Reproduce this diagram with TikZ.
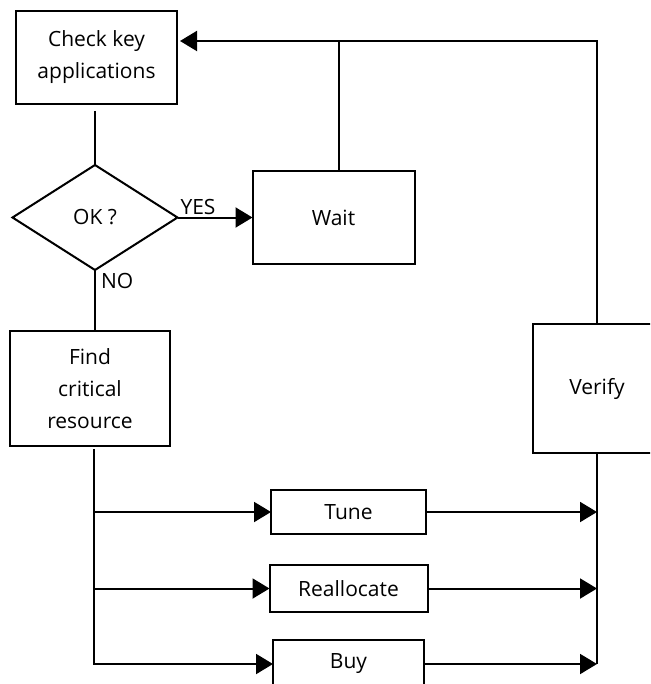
\documentclass[tikz,border=0pt]{standalone}
\usepackage{fontspec}
\setmainfont{Open Sans}
\usetikzlibrary{positioning,arrows.meta,shapes.geometric}
\tikzset{
  bloc/.style     = {draw, line width=1pt, outer sep=0pt, align=center, inner sep=2pt,
                     font=\fontsize{10.5}{16}\selectfont},
  romb/.style     = {bloc, diamond, minimum width=82.5pt, minimum height=52.5pt},
  eticheta/.style = {font=\fontsize{10.5}{12}\selectfont, inner sep=1pt},
  linie/.style    = {line width=1pt},
  sageata/.style  = {linie, -{Triangle[length=8.5pt, width=10pt]}}
}
\begin{document}
\begin{tikzpicture}
        \clip (0,0) rectangle (325pt,-342pt);
        \fill[white] (0,0) rectangle (325pt,-342pt);
        \node[bloc, minimum width=80.5pt, minimum height=46.5pt] (check) at (48.25pt,-28.75pt)
            {Check key\\ applications};
        \node[romb, below=30.5pt of check, xshift=-0.75pt] (ok) {OK ?};
        \node[bloc, minimum width=80pt, minimum height=57.5pt, below=30.5pt of ok, xshift=-2.5pt] (find)
            {Find\\ critical\\ resource};
        \node[bloc, minimum width=81pt, minimum height=46pt, right=37.5pt of ok] (wait) {Wait};
        \node[bloc, minimum width=64pt, minimum height=64.5pt, right=181.5pt of find] (verify) {Verify};
        \node[bloc, minimum width=77.5pt, minimum height=22pt, below right=22pt and 50.5pt of find] (tune) {Tune};
        \node[bloc, minimum width=79pt, minimum height=23.5pt, below=15.5pt of tune] (realloc) {Reallocate};
        \node[bloc, minimum width=75.5pt, minimum height=24pt, below=14pt of realloc] (buy) {Buy};

        \coordinate (sus) at ([yshift=8.25pt]check.east);

        \draw[linie, shorten <=3.5pt] (check.south -| ok.north) -- (ok.north);
        \draw[sageata] (ok.east) -- node[eticheta, pos=0, above right] {YES} (wait.west);
        \draw[linie] (ok.south) -- node[eticheta, pos=0, below right, xshift=1.5pt] {NO} (find.north -| ok.south);
        \draw[sageata, shorten >=1.5pt] (verify.north) |- (sus);
        \draw[linie] ([xshift=2.5pt]wait.north) -- ([xshift=2.5pt]wait.north |- sus);
        \draw[sageata, shorten <=1.5pt] ([xshift=2pt]find.south) |- (tune.west);
        \draw[sageata, shorten <=1.5pt] ([xshift=2pt]find.south) |- (realloc.west);
        \draw[sageata, shorten <=1.5pt] ([xshift=2pt]find.south) |- (buy.west);
        \draw[sageata] (tune.east) -- (tune.east -| verify.south);
        \draw[sageata] (realloc.east) -- (realloc.east -| verify.south);
        \draw[sageata] (buy.east) -- (buy.east -| verify.south);
        \draw[linie] (verify.south) -- (verify.south |- buy.east);
    \end{tikzpicture}
\end{document}
